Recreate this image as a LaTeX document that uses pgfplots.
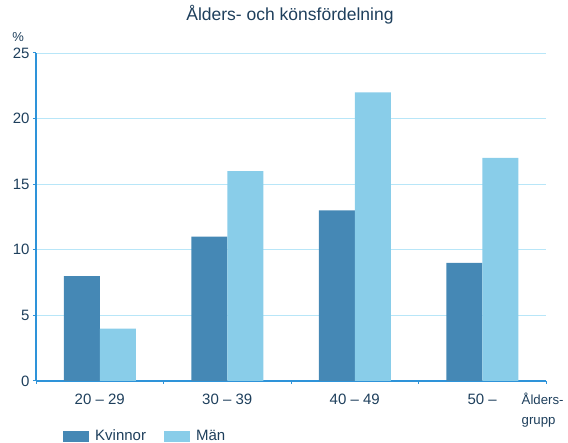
\documentclass[border=0pt]{standalone}
\usepackage{fontspec}
\setmainfont{Liberation Sans}
\usepackage{pgfplots}
\pgfplotsset{compat=1.18}

\definecolor{kvinnor}{HTML}{4588B5}
\definecolor{man}{HTML}{89CDE9}
\definecolor{axisblue}{HTML}{2E93D9}
\definecolor{gridblue}{HTML}{B8E6F8}
\definecolor{textnavy}{HTML}{1E3F5C}

\begin{document}
\begin{tikzpicture}[x=1pt,y=1pt]
\path[use as bounding box] (0,0) rectangle (568,-443);
\begin{axis}[
  at={(36pt,-381pt)}, anchor=south west,
  scale only axis, width=510pt, height=328pt,
  clip=false,
  xmin=-0.5, xmax=3.5, ymin=0, ymax=25,
  ybar=0pt, bar width=36pt,
  axis x line*=bottom, axis y line*=left,
  axis line style={draw=axisblue, line width=1.2pt, -},
  ymajorgrids, grid style={draw=gridblue, line width=0.9pt},
  ytick={0,5,10,15,20,25},
  xtick={0,1,2,3},
  xticklabels={20 – 29, 30 – 39, 40 – 49, 50 –},
  major x tick style={draw=none},
  minor xtick={-0.5,0.5,1.5,2.5,3.5},
  minor x tick style={draw=axisblue, line width=1pt},
  major y tick style={draw=axisblue, line width=1pt},
  tick align=outside, major tick length=3pt, minor tick length=3pt,
  /pgf/number format/assume math mode=true,
  tick label style={font=\fontsize{15}{17}\selectfont, text=textnavy},
  xticklabel style={yshift=-6pt},
  yticklabel style={xshift=0pt},
  title={Ålders- och könsfördelning},
  title style={at={(0.498,1.10)}, anchor=center, font=\fontsize{17.5}{20}\selectfont, text=textnavy},
  legend columns=2,
  legend style={at={(0.053,-0.168)}, anchor=west, draw=none, fill=none,
    font=\fontsize{15}{17}\selectfont, text=textnavy,
    /tikz/every odd column/.append style={column sep=4pt},
    /tikz/every even column/.append style={column sep=16pt},
    inner sep=0pt},
  legend image code/.code={\fill[#1] (0pt,-5.5pt) rectangle (26pt,5.5pt);},
]
\addplot[fill=kvinnor, draw=none] coordinates {(0,8) (1,11) (2,13) (3,9)};
\addplot[fill=man, draw=none] coordinates {(0,4) (1,16) (2,22) (3,17)};
\legend{Kvinnor, Män}
\node[anchor=center, font=\fontsize{13}{15}\selectfont, text=textnavy]
  at (rel axis cs:-0.035,1.049) {\%};
\node[anchor=west, align=left, font=\fontsize{13.2}{20}\selectfont, text=textnavy, inner sep=0pt]
  at (rel axis cs:0.952,-0.088) {Ålders-\\grupp};
\end{axis}
\end{tikzpicture}
\end{document}
